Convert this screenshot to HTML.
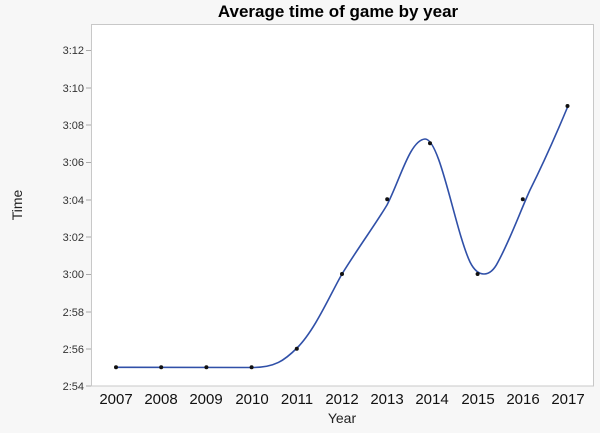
<!DOCTYPE html>
<html><head><style>
body{margin:0;background:#f7f7f7;width:600px;height:428px;overflow:hidden;font-family:"Liberation Sans",sans-serif;}
</style></head><body>
<svg width="600" height="428" xmlns="http://www.w3.org/2000/svg" font-family="Liberation Sans, sans-serif">
<rect width="600" height="428" fill="#f7f7f7"/>
<text x="338" y="17" text-anchor="middle" font-size="17" font-weight="bold" fill="#000">Average time of game by year</text>
<rect x="91.5" y="24.5" width="502" height="361.5" fill="#fff" stroke="#c8c8c8" stroke-width="1"/>
<g font-size="11" fill="#333" text-anchor="end">
<text x="84" y="54">3:12</text><text x="84" y="92">3:10</text><text x="84" y="129">3:08</text>
<text x="84" y="166">3:06</text><text x="84" y="204">3:04</text><text x="84" y="241">3:02</text>
<text x="84" y="278">3:00</text><text x="84" y="316">2:58</text><text x="84" y="353">2:56</text><text x="84" y="390">2:54</text>
</g>
<g stroke="#aaa" stroke-width="1">
<line x1="86" x2="91" y1="50.5" y2="50.5"/><line x1="86" x2="91" y1="88" y2="88"/><line x1="86" x2="91" y1="125" y2="125"/>
<line x1="86" x2="91" y1="162.5" y2="162.5"/><line x1="86" x2="91" y1="200" y2="200"/><line x1="86" x2="91" y1="237" y2="237"/>
<line x1="86" x2="91" y1="274.5" y2="274.5"/><line x1="86" x2="91" y1="312" y2="312"/><line x1="86" x2="91" y1="349" y2="349"/>
<line x1="86" x2="91" y1="386" y2="386"/>
</g>
<g font-size="15" fill="#111" text-anchor="middle">
<text x="116" y="404">2007</text><text x="161" y="404">2008</text><text x="206" y="404">2009</text>
<text x="252" y="404">2010</text><text x="297" y="404">2011</text><text x="342" y="404">2012</text>
<text x="387" y="404">2013</text><text x="432" y="404">2014</text><text x="478" y="404">2015</text>
<text x="523" y="404">2016</text><text x="568" y="404">2017</text>
</g>
<text x="342" y="423" text-anchor="middle" font-size="14" fill="#222">Year</text>
<text transform="translate(22,205) rotate(-90)" text-anchor="middle" font-size="14" fill="#222">Time</text>
<path d="M116,367.3 L250,367.5 C275,368 285,360 297,348 C315,330 330,295 342,274 C360,245 375,225 387,205 C400,180 410,140 425,139 C440,138 455,230 470,262 C478,278 490,278 498,262 C510,240 520,212 530,190 C545,160 558,130 568,106" fill="none" stroke="#3050a8" stroke-width="1.6"/>
<g fill="#111">
<circle cx="116" cy="367.3" r="2"/><circle cx="161.2" cy="367.3" r="2"/><circle cx="206.4" cy="367.3" r="2"/>
<circle cx="251.6" cy="367.3" r="2"/><circle cx="296.8" cy="348.7" r="2"/><circle cx="342" cy="274" r="2"/>
<circle cx="387.2" cy="199.3" r="2"/><circle cx="430" cy="143.3" r="2"/><circle cx="477.6" cy="274" r="2"/>
<circle cx="522.8" cy="199.3" r="2"/><circle cx="567.5" cy="106" r="2"/>
</g>
</svg>
</body></html>
